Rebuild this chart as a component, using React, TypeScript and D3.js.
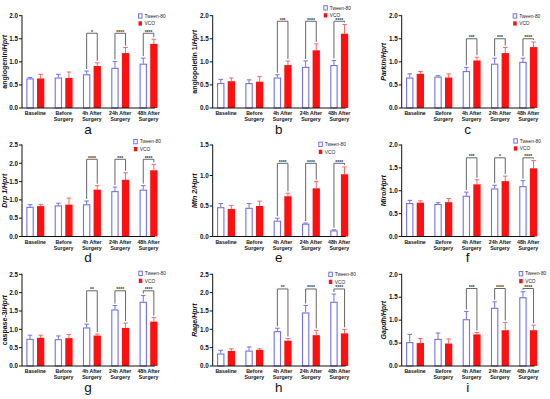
import React from "react";
import * as d3 from "d3";

const groups: string[][] = [["Baseline"], ["Before", "Surgery"], ["4h After", "Surgery"], ["24h After", "Surgery"], ["48h After", "Surgery"]];
const seriesNames = ["Tween-80", "VCO"];

const aTween = [0.64, 0.66, 0.73, 0.87, 0.96];
const aTweenErr = [0.02, 0.07, 0.07, 0.14, 0.12];
const aVco = [0.64, 0.65, 0.91, 1.19, 1.39];
const aVcoErr = [0.09, 0.13, 0.07, 0.12, 0.1];
const aStars = ["*", "****", "****"];

const bTween = [0.54, 0.54, 0.66, 0.89, 0.93];
const bTweenErr = [0.08, 0.07, 0.06, 0.13, 0.1];
const bVco = [0.58, 0.57, 0.93, 1.25, 1.61];
const bVcoErr = [0.07, 0.11, 0.09, 0.14, 0.2];
const bStars = ["***", "****", "****"];

const cTween = [0.66, 0.68, 0.8, 0.96, 1.0];
const cTweenErr = [0.08, 0.02, 0.08, 0.12, 0.08];
const cVco = [0.74, 0.66, 1.03, 1.19, 1.32];
const cVcoErr = [0.05, 0.08, 0.07, 0.12, 0.11];
const cStars = ["***", "***", "****"];

const dTween = [0.81, 0.85, 0.88, 1.24, 1.28];
const dTweenErr = [0.06, 0.06, 0.09, 0.11, 0.11];
const dVco = [0.83, 0.87, 1.28, 1.55, 1.81];
const dVcoErr = [0.05, 0.18, 0.11, 0.19, 0.16];
const dStars = ["****", "***", "****"];

const eTween = [0.48, 0.47, 0.26, 0.21, 0.1];
const eTweenErr = [0.06, 0.07, 0.04, 0.01, 0.01];
const eVco = [0.45, 0.5, 0.66, 0.79, 1.02];
const eVcoErr = [0.06, 0.08, 0.05, 0.11, 0.12];
const eStars = ["****", "****", "****"];

const fTween = [0.73, 0.71, 0.89, 1.05, 1.1];
const fTweenErr = [0.06, 0.03, 0.08, 0.07, 0.12];
const fVco = [0.74, 0.75, 1.14, 1.21, 1.49];
const fVcoErr = [0.04, 0.08, 0.1, 0.11, 0.17];
const fStars = ["***", "*", "****"];

const gTween = [0.74, 0.73, 1.05, 1.54, 1.75];
const gTweenErr = [0.1, 0.09, 0.09, 0.11, 0.17];
const gVco = [0.77, 0.76, 0.83, 1.04, 1.21];
const gVcoErr = [0.07, 0.1, 0.04, 0.13, 0.11];
const gStars = ["**", "****", "****"];

const hTween = [0.34, 0.42, 0.95, 1.46, 1.75];
const hTweenErr = [0.09, 0.1, 0.08, 0.19, 0.21];
const hVco = [0.41, 0.44, 0.69, 0.84, 0.89];
const hVcoErr = [0.06, 0.03, 0.06, 0.13, 0.11];
const hStars = ["**", "****", "****"];

const iTween = [0.52, 0.59, 1.02, 1.27, 1.5];
const iTweenErr = [0.17, 0.13, 0.17, 0.13, 0.12];
const iVco = [0.5, 0.49, 0.69, 0.78, 0.78];
const iVcoErr = [0.1, 0.1, 0.04, 0.17, 0.11];
const iStars = ["***", "****", "****"];

type Part = { t: string; i?: boolean };
const aLabel: Part[] = [{ t: "angiogenin/" }, { t: "Hprt", i: true }];
const bLabel: Part[] = [{ t: "angiopoietin 1/" }, { t: "Hprt", i: true }];
const cLabel: Part[] = [{ t: "Parkin/Hprt", i: true }];
const dLabel: Part[] = [{ t: "Drp 1/Hprt", i: true }];
const eLabel: Part[] = [{ t: "Mfn 2/Hprt", i: true }];
const fLabel: Part[] = [{ t: "Miro/Hprt", i: true }];
const gLabel: Part[] = [{ t: "caspase-3/" }, { t: "Hprt", i: true }];
const hLabel: Part[] = [{ t: "Rage/Hprt", i: true }];
const iLabel: Part[] = [{ t: "Gapdh/Hprt", i: true }];

const yMaxes = [2, 2, 2, 2.5, 1.5, 2, 2.5, 2.5, 2];
const bracketLevels = [1.62, 1.88, 1.5, 2.11, 1.2, 1.72, 2.05, 2.1, 1.69];
const letters = ["a", "b", "c", "d", "e", "f", "g", "h", "i"];

const panels = [
  { tw: aTween, twE: aTweenErr, vc: aVco, vcE: aVcoErr, stars: aStars, label: aLabel },
  { tw: bTween, twE: bTweenErr, vc: bVco, vcE: bVcoErr, stars: bStars, label: bLabel },
  { tw: cTween, twE: cTweenErr, vc: cVco, vcE: cVcoErr, stars: cStars, label: cLabel },
  { tw: dTween, twE: dTweenErr, vc: dVco, vcE: dVcoErr, stars: dStars, label: dLabel },
  { tw: eTween, twE: eTweenErr, vc: eVco, vcE: eVcoErr, stars: eStars, label: eLabel },
  { tw: fTween, twE: fTweenErr, vc: fVco, vcE: fVcoErr, stars: fStars, label: fLabel },
  { tw: gTween, twE: gTweenErr, vc: gVco, vcE: gVcoErr, stars: gStars, label: gLabel },
  { tw: hTween, twE: hTweenErr, vc: hVco, vcE: hVcoErr, stars: hStars, label: hLabel },
  { tw: iTween, twE: iTweenErr, vc: iVco, vcE: iVcoErr, stars: iStars, label: iLabel },
];

// layout (not data)
const colX = [22, 212.7, 401.7];
const rowTop = [15.7, 145, 274.3];
const rowBottom = [108, 236.5, 366];
const legendOff = [[116, -2.4], [110.6, -10.5], [111, -2.4], [111.3, -6], [105.6, -3.3], [111.6, -6.7], [116.3, -3.6], [115.6, -2.6], [117, -3.3]];

const BLUE = "#7070f0";
const RED = "#ff1010";
const RED_ERR = "#f06a6a";
const FONT = "Liberation Sans, Arial, sans-serif";

function Panel({ idx }: { idx: number }) {
  const p = panels[idx];
  const col = idx % 3;
  const row = Math.floor(idx / 3);
  const x0 = colX[col];
  const top = rowTop[row];
  const bottom = rowBottom[row];
  const yMax = yMaxes[idx];
  const y = d3.scaleLinear().domain([0, yMax]).range([bottom, top]);
  const x = d3.scaleBand<number>().domain(d3.range(groups.length)).range([x0 - 0.8, x0 + 140.7]).paddingInner(0).paddingOuter(0);
  const bw = 7.3;
  const gap = 3.3;
  const ticks = d3.range(0, yMax + 0.001, 0.5);
  const fmt = d3.format(".1f");
  const [ldx, ldy] = legendOff[idx];
  const center = (i: number) => (x(i) as number) + x.bandwidth() / 2;
  const twX = (i: number) => center(i) - gap / 2 - bw;
  const vcX = (i: number) => center(i) + gap / 2;
  const capW = 4.5;
  const yb = y(bracketLevels[idx]);
  return (
    <g>
      {p.tw.map((v, i) => (
        <g key={"t" + i}>
          <line x1={twX(i) + bw / 2} x2={twX(i) + bw / 2} y1={y(v)} y2={y(v + p.twE[i])} stroke={BLUE} strokeWidth={1} />
          <line x1={twX(i) + bw / 2 - capW / 2} x2={twX(i) + bw / 2 + capW / 2} y1={y(v + p.twE[i])} y2={y(v + p.twE[i])} stroke={BLUE} strokeWidth={1} />
          <rect x={twX(i) + 0.5} y={y(v) + 0.5} width={bw - 1} height={bottom - y(v) - 0.5} fill="#fff" stroke={BLUE} strokeWidth={1.1} />
        </g>
      ))}
      {p.vc.map((v, i) => (
        <g key={"v" + i}>
          <line x1={vcX(i) + bw / 2} x2={vcX(i) + bw / 2} y1={y(v)} y2={y(v + p.vcE[i])} stroke={RED_ERR} strokeWidth={1} />
          <line x1={vcX(i) + bw / 2 - capW / 2} x2={vcX(i) + bw / 2 + capW / 2} y1={y(v + p.vcE[i])} y2={y(v + p.vcE[i])} stroke={RED_ERR} strokeWidth={1} />
          <rect x={vcX(i)} y={y(v)} width={bw} height={bottom - y(v)} fill={RED} />
        </g>
      ))}
      {p.stars.map((s, k) => {
        const i = k + 2;
        const lx = twX(i) + bw / 2;
        const rx = vcX(i) + bw / 2;
        const ly = y(p.tw[i] + p.twE[i]) - 2;
        const ry = y(p.vc[i] + p.vcE[i]) - 2;
        return (
          <g key={"b" + k}>
            <path d={`M${lx},${ly}V${yb}H${rx}V${ry}`} fill="none" stroke="#555" strokeWidth={0.9} />
            <text x={(lx + rx) / 2} y={yb + 0.5} fontSize={5} textAnchor="middle" fontFamily={FONT} fontWeight="bold" fill="#333">{s}</text>
          </g>
        );
      })}
      <line x1={x0} x2={x0} y1={top - 0.5} y2={bottom} stroke="#111" strokeWidth={1} />
      {ticks.map((t) => (
        <g key={"yt" + t}>
          <line x1={x0 - 3} x2={x0} y1={y(t)} y2={y(t)} stroke="#111" strokeWidth={1} />
          <text x={x0 - 4} y={y(t) + 2.2} fontSize={6.3} fontWeight="bold" textAnchor="end" fontFamily={FONT} fill="#111">{fmt(t)}</text>
        </g>
      ))}
      <line x1={x0} x2={x0 + 133} y1={bottom} y2={bottom} stroke="#111" strokeWidth={1} />
      {groups.map((g, i) => (
        <text key={"xl" + i} x={center(i)} textAnchor="middle" fontSize={5.2} fontWeight="bold" fontFamily={FONT} fill="#111">
          {g.map((line, j) => (
            <tspan key={j} x={center(i)} y={bottom + 7 + j * 6.3}>{line}</tspan>
          ))}
        </text>
      ))}
      <text transform={`translate(${x0 - 15.5},${(top + bottom) / 2}) rotate(-90)`} textAnchor="middle" fontSize={7} fontWeight="bold" fontFamily={FONT} fill="#111">
        {p.label.map((part, j) => (
          <tspan key={j} fontStyle={part.i ? "italic" : "normal"}>{part.t}</tspan>
        ))}
      </text>
      {seriesNames.map((n, j) => (
        <g key={"lg" + j}>
          <rect x={x0 + ldx + 0.5} y={top + ldy + j * 7.5 + 0.5} width={3.5} height={4.3} fill={j === 0 ? "#fff" : RED} stroke={j === 0 ? BLUE : "none"} strokeWidth={1} />
          <text x={x0 + ldx + 6.5} y={top + ldy + j * 7.5 + 4.3} fontSize={4.8} fontFamily={FONT} fill="#222">{n}</text>
        </g>
      ))}
      <text x={x0 + 66} y={bottom + 25.5} fontSize={13.5} textAnchor="middle" fontFamily={FONT} fill="#111">{letters[idx]}</text>
    </g>
  );
}

export default function App() {
  return (
    <svg width={550} height={399} style={{ position: "absolute", left: 0, top: 0, background: "#fff" }}>
      <rect width={550} height={399} fill="#fff" />
      {panels.map((_, i) => (
        <Panel key={i} idx={i} />
      ))}
    </svg>
  );
}
